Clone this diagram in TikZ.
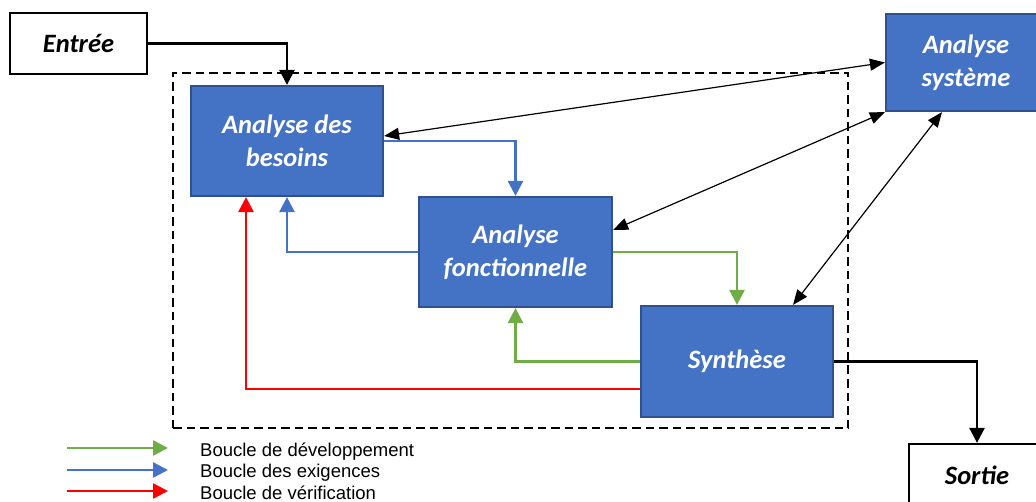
\documentclass[tikz,border=0pt]{standalone}
\usepackage{fontspec}
\setmainfont{Carlito}
\newfontfamily\legendfont{Liberation Sans}
\usetikzlibrary{arrows.meta}
\definecolor{boxblue}{HTML}{4472C4}
\definecolor{boxedge}{HTML}{2F528F}
\definecolor{devgreen}{HTML}{70AD47}
\definecolor{reqblue}{HTML}{4472C4}
\definecolor{verred}{HTML}{FF0000}

\begin{document}
\begin{tikzpicture}[x=1pt, y=-1pt,
  boxtext/.style={font=\fontsize{26.5}{33}\selectfont\bfseries\itshape, align=center, inner sep=0pt},
  bluebox/.style={boxtext, draw=boxedge, line width=2.2pt, fill=boxblue, text=white},
  whitebox/.style={boxtext, draw=black, line width=2.2pt, fill=white, text=black},
  frame/.style={draw=black, line width=2.6pt, dash pattern=on 8.5pt off 5pt, inner sep=0pt},
  flow/.style={line width=2.6pt, -{Triangle[length=15pt,width=15pt]}},
  mainflow/.style={flow, draw=black},
  devloop/.style={flow, draw=devgreen},
  reqloop/.style={flow, draw=reqblue},
  verloop/.style={flow, draw=verred},
  link/.style={draw=black, line width=1.2pt,
    {Triangle[length=15pt,width=12pt]}-{Triangle[length=15pt,width=12pt]}},
  legendtext/.style={font=\legendfont\fontsize{18.5}{21}\selectfont, inner sep=0pt, anchor=base west}
]
\useasboundingbox (0,0) rectangle (1036,502);
\clip (0,0) rectangle (1036,502);

% dashed boundary of the analysis loops
\node[frame, minimum width=675pt, minimum height=355pt] (frame) at (510.5,250.5) {};

% boxes
\node[whitebox, minimum width=137pt, minimum height=61pt] (entree) at (78.5,43.5) {Entrée};
\node[bluebox, minimum width=192pt, minimum height=110pt] (besoins) at (287,141) {Analyse des\\besoins};
\node[bluebox, minimum width=193pt, minimum height=110pt] (fonct) at (515.5,252) {Analyse\\fonctionnelle};
\node[bluebox, minimum width=192pt, minimum height=111pt] (synth) at (737,361.5) {Synthèse};
\node[bluebox, minimum width=160pt, minimum height=97pt] (systeme) at (966,62.5) {Analyse\\système};
\node[whitebox, minimum width=136pt, minimum height=62pt] (sortie) at (977,475) {Sortie};

% input and output
\draw[mainflow] (entree.east) -| (besoins.north);
\draw[mainflow] (synth.east) -| (sortie.north);

% requirements loop
\draw[reqloop] (besoins.east) -| (fonct.north);
\draw[reqloop] (fonct.west) -| (besoins.south);

% development loop
\draw[devloop] (fonct.east) -| (synth.north);
\draw[devloop] (synth.west) -| (fonct.south);

% verification loop
\draw[verloop] ([yshift=-27.5pt]synth.west) -| ([xshift=-41pt]besoins.south);

% exchanges with system analysis
\draw[link] ([yshift=5pt]besoins.east) -- (systeme.west);
\draw[link] ([yshift=22pt]fonct.east) -- (systeme.south west);
\draw[link] ([xshift=56pt]synth.north) -- ([xshift=-24pt]systeme.south);

% legend
\coordinate (g1) at (67,448); \coordinate (g2) at (168,448);
\coordinate (b1) at (67,470); \coordinate (b2) at (168,470);
\coordinate (r1) at (67,491); \coordinate (r2) at (168,491);
\draw[devloop] (g1) -- (g2);
\draw[reqloop] (b1) -- (b2);
\draw[verloop] (r1) -- (r2);
\node[legendtext] (ldev) at (200,456) {Boucle de développement};
\node[legendtext] (lreq) at (200,477) {Boucle des exigences};
\node[legendtext] (lver) at (200,499) {Boucle de vérification};
\end{tikzpicture}
\end{document}
